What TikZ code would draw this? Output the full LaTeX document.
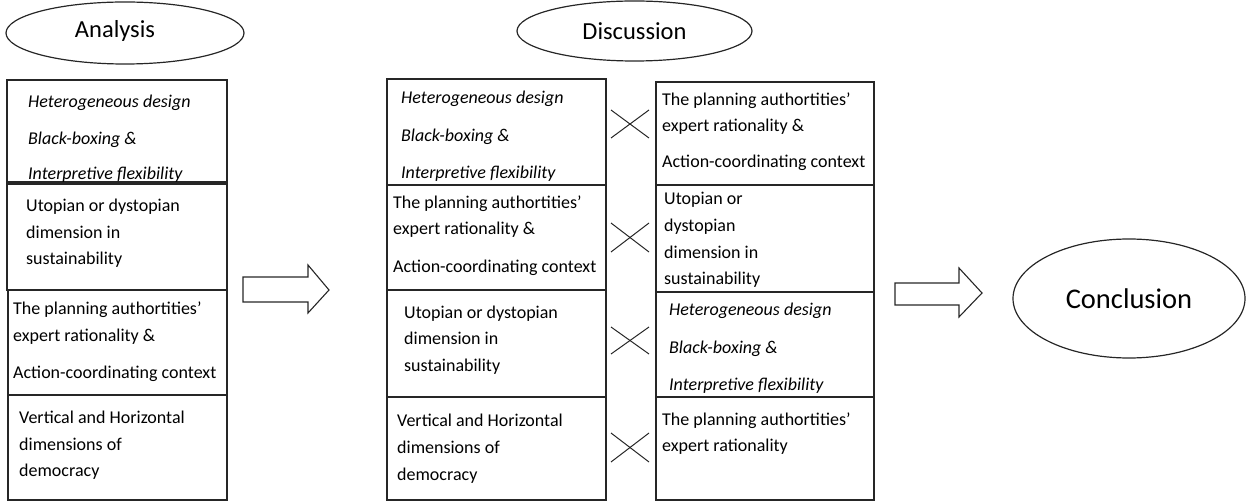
\documentclass[tikz,border=0pt]{standalone}
\usepackage{fontspec}
\setmainfont{Carlito}
\usetikzlibrary{shapes.geometric}
\begin{document}
\begin{tikzpicture}[x=1bp,y=-1bp,
  boxline/.style={draw=black!85, line width=1.3bp},
  oval/.style={ellipse, draw=black!85, line width=1.2bp, inner sep=0pt},
  hdr/.style={font=\fontsize{24.5bp}{28bp}\selectfont, inner sep=0pt},
  boxtext/.style={anchor=base west, inner sep=0pt, align=left, font=\fontsize{18bp}{26.7bp}\selectfont},
  crossline/.style={draw=black!85, line width=1bp},
  blockarrow/.style={draw=black!85, line width=1.1bp, line join=miter}
]
\useasboundingbox (0,0) rectangle (1248,502);

% headers
\node[oval, minimum width=238bp, minimum height=62bp] (analysis) at (125,33) {};
\node[hdr] (analysisT) at (115,31) {Analysis};
\node[oval, minimum width=235bp, minimum height=60bp, hdr] (discussion) at (634.5,31) {Discussion};
\node[oval, minimum width=232bp, minimum height=119bp, font=\fontsize{28.5bp}{32bp}\selectfont] (conclusion) at (1129,298.5) {Conclusion};

% left column boxes
\draw[boxline] (7,80) rectangle (227,182);
\draw[boxline] (7,184) rectangle (227,290);
\draw[boxline] (8,290) rectangle (227,395);
\draw[boxline] (8,395) rectangle (227,500);

% (anchor point = baseline of the last line)
\node[boxtext] (l1) at (28,180) {\itshape Heterogeneous design\\[10bp]\itshape Black-boxing \&\\[9bp]\itshape Interpretive flexibility};
\node[boxtext] (l2) at (26,265) {Utopian or dystopian\\dimension in\\sustainability};
\node[boxtext] (l3) at (13,378.3) {The planning authortities’\\expert rationality \&\\[10bp]Action-coordinating context};
\node[boxtext] (l4) at (19,476.7) {Vertical and Horizontal\\dimensions of\\democracy};

% middle column boxes
\draw[boxline] (387,79) rectangle (606,185);
\draw[boxline] (387,185) rectangle (606,290);
\draw[boxline] (387,290) rectangle (606,397);
\draw[boxline] (387,397) rectangle (606,500);

\node[boxtext] (m1) at (401,178.3) {\itshape Heterogeneous design\\[11bp]\itshape Black-boxing \&\\[10bp]\itshape Interpretive flexibility};
\node[boxtext] (m2) at (393,272.7) {The planning authortities’\\expert rationality \&\\[11bp]Action-coordinating context};
\node[boxtext] (m3) at (404,371.7) {Utopian or dystopian\\dimension in\\sustainability};
\node[boxtext] (m4) at (397,480) {Vertical and Horizontal\\dimensions of\\democracy};

% right column boxes
\draw[boxline] (656,82) rectangle (874,185);
\draw[boxline] (656,185) rectangle (874,292);
\draw[boxline] (656,292) rectangle (874,397);
\draw[boxline] (656,397) rectangle (874,500);

\node[boxtext] (r1) at (662,167.7) {The planning authortities’\\expert rationality \&\\[9bp]Action-coordinating context};
\node[boxtext] (r2) at (664,285) {Utopian or\\dystopian\\dimension in\\sustainability};
\node[boxtext] (r3) at (669,390) {\itshape Heterogeneous design\\[11bp]\itshape Black-boxing \&\\[10bp]\itshape Interpretive flexibility};
\node[boxtext] (r4) at (662,451.7) {The planning authortities’\\expert rationality};

% crosses
\foreach \ya/\yb in {110/138, 223/252, 327/354, 433/462}{
  \draw[crossline] (611,\ya) -- (649,\yb);
  \draw[crossline] (611,\yb) -- (649,\ya);
}

% block arrows
\draw[blockarrow] (243,277) -- (308,277) -- (308,265) -- (329,290) -- (308,313) -- (308,302) -- (243,302) -- cycle;
\draw[blockarrow] (895,283) -- (959,283) -- (959,268) -- (982,293) -- (959,317) -- (959,305) -- (895,305) -- cycle;
\end{tikzpicture}
\end{document}
